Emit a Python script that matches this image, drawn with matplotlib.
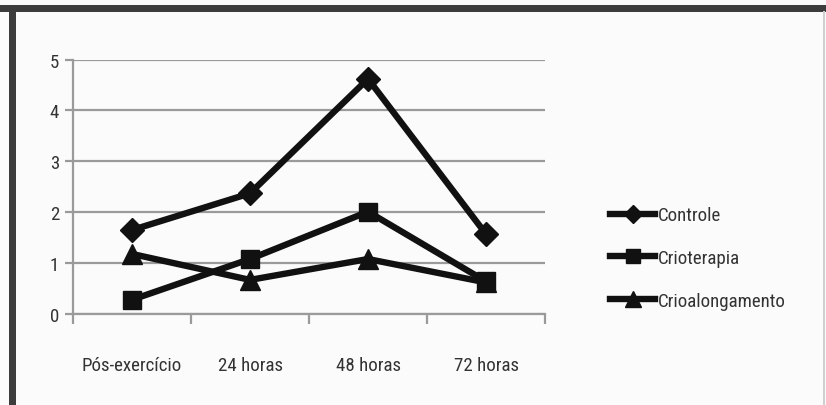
import matplotlib
matplotlib.use("Agg")
import matplotlib.pyplot as plt
from matplotlib import font_manager
from matplotlib.font_manager import FontProperties
from matplotlib.patches import Rectangle

# Data
categories = ["Pós-exercício", "24 horas", "48 horas", "72 horas"]
controle = [1.65, 2.37, 4.62, 1.57]
crioterapia = [0.28, 1.08, 2.01, 0.64]
crioalongamento = [1.18, 0.67, 1.08, 0.62]
series_names = ["Controle", "Crioterapia", "Crioalongamento"]
y_ticks = [0, 1, 2, 3, 4, 5]

# Pick a narrow sans-serif face if one is installed
def pick_font():
    entries = font_manager.fontManager.ttflist
    for key in ("Liberation Sans Narrow", "Arial Narrow"):
        for f in entries:
            if f.name == key and f.weight in (400, "normal", "regular"):
                return FontProperties(fname=f.fname), True
    for key in ("RobotoCondensed", "Roboto Condensed", "DejaVuSansCondensed",
                "OpenSans_Condensed", "OpenSansCondensed", "NotoSans-Condensed"):
        for f in entries:
            base = f.fname.split("/")[-1]
            if base.replace(" ", "").lower().startswith(key.replace(" ", "").lower()) and \
                    "Bold" not in base and "Italic" not in base and "Oblique" not in base \
                    and "Light" not in base and "Medium" not in base and "Semi" not in base \
                    and "Extra" not in base and "Black" not in base and "Thin" not in base:
                return FontProperties(fname=f.fname), True
    return FontProperties(family="Liberation Sans"), False

fp, narrow = pick_font()
fs = 13.6 if narrow else 12.5
fp.set_size(fs)

W, H = 826, 406
fig = plt.figure(figsize=(W / 100, H / 100), dpi=100)
fig.patch.set_facecolor("#fbfbfb")

# Frame bands (dark top and left edges, thin right edge)
def px_rect(x0, y0, w, h, color):
    fig.patches.append(Rectangle((x0 / W, 1 - (y0 + h) / H), w / W, h / H,
                                 transform=fig.transFigure, facecolor=color,
                                 edgecolor="none", zorder=0))

px_rect(0, 6, W, 7, "#3c3c3c")
px_rect(9, 6, 7, H - 6, "#3c3c3c")
px_rect(823, 12, 2, H - 12, "#cfcfcf")

ax = fig.add_axes([73 / W, (H - 315) / H, 472 / W, 254.5 / H])
ax.set_facecolor("none")

x = list(range(len(categories)))
line_kw = dict(color="#111111", linewidth=4.6, solid_joinstyle="miter")
ax.plot(x, controle, marker="D", markersize=12.5, label=series_names[0], **line_kw)
ax.plot(x, crioterapia, marker="s", markersize=13.5, label=series_names[1], **line_kw)
ax.plot(x, crioalongamento, marker="^", markersize=14.5, label=series_names[2], **line_kw)

ax.set_xlim(-0.5, len(categories) - 0.5)
ax.set_ylim(0, 5)
ax.set_yticks(y_ticks)
ax.yaxis.grid(True, color="#9a9a9a", linewidth=1.6)
ax.set_axisbelow(True)

# Category boundaries as tick marks, labels centred between them
ax.set_xticks([i - 0.5 for i in range(len(categories) + 1)])
ax.set_xticklabels([])
ax.set_xticks(x, minor=True)
ax.set_xticklabels(categories, minor=True, fontproperties=fp, color="#333333")
ax.set_yticklabels([str(v) for v in y_ticks], fontproperties=fp, color="#333333")
ax.tick_params(axis="x", which="major", length=7, width=1.6, color="#9a9a9a", direction="out")
ax.tick_params(axis="x", which="minor", length=0, pad=30)
ax.tick_params(axis="y", length=6, width=1.6, color="#9a9a9a", pad=4)

for side in ("top", "right"):
    ax.spines[side].set_visible(False)
for side in ("left", "bottom"):
    ax.spines[side].set_color("#9a9a9a")
    ax.spines[side].set_linewidth(1.6)

leg = ax.legend(loc="center left", bbox_to_anchor=(610 / W, 1 - 259 / H),
                bbox_transform=fig.transFigure, frameon=False, prop=fp,
                handlelength=2.4, handletextpad=0.12, labelspacing=1.3,
                markerscale=0.75, borderpad=0, borderaxespad=0)
for t in leg.get_texts():
    t.set_color("#333333")

fig.savefig("out.png", dpi=100, facecolor=fig.get_facecolor())
